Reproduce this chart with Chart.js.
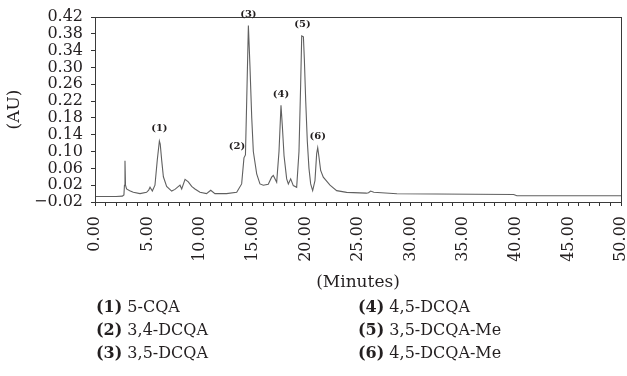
<!DOCTYPE html>
<html>
<head>
<meta charset="utf-8">
<script src="https://cdn.jsdelivr.net/npm/chart.js@4.4.1/dist/chart.umd.min.js"></script>
<style>
    body { margin: 0; background: #fff; }
    .wrap { position: relative; width: 627px; height: 376px; }
    .legend { position: absolute; font-family: "DejaVu Serif", serif; font-size: 16px; color: #231f20; line-height: 23px; }
    .legend b { font-weight: bold; }
</style>
</head>
<body>
<div class="wrap">
    <canvas id="myChart" width="627" height="376"></canvas>
    <div class="legend" id="legendLeft" style="left: 96px; top: 295px;"></div>
    <div class="legend" id="legendRight" style="left: 358px; top: 295px;"></div>
</div>
<script>
// Chromatogram trace (minutes, AU)
const retentionTimes = [0, 2.0, 2.6, 2.75, 2.8, 2.85, 2.9, 3.0, 3.3, 3.64, 4.28, 4.9, 5.1, 5.23, 5.45, 5.7, 5.92, 6.12, 6.2, 6.34,
    6.5, 6.81, 7.29, 7.6, 8.08, 8.24, 8.56, 8.87, 9.19, 9.5, 9.98, 10.6, 11.0, 11.4, 12.5, 13.47, 13.94, 14.16, 14.3, 14.42,
    14.58, 14.73, 14.9, 15.05, 15.37, 15.68, 16.0, 16.47, 16.79, 16.95, 17.27, 17.49, 17.68, 17.81, 17.97, 18.22, 18.38, 18.6, 18.85, 19.17,
    19.39, 19.55, 19.65, 19.81, 19.9, 20.03, 20.18, 20.34, 20.5, 20.69, 20.91, 21.07, 21.17, 21.29, 21.45, 21.7, 22.34, 22.97, 23.92, 25.8,
    26.0, 26.2, 26.5, 28.7, 39.8, 40.1, 50];
const absorbance = [-0.007, -0.007, -0.006, -0.003, 0.02, 0.078, 0.02, 0.011, 0.007, 0.003, 0.0, 0.003, 0.008, 0.015, 0.006, 0.02, 0.08, 0.125, 0.118, 0.079,
    0.04, 0.017, 0.006, 0.01, 0.02, 0.011, 0.034, 0.028, 0.017, 0.011, 0.003, 0.0, 0.008, 0.0, 0.0, 0.003, 0.023, 0.085, 0.092, 0.22,
    0.40, 0.303, 0.18, 0.1, 0.047, 0.023, 0.02, 0.022, 0.039, 0.043, 0.027, 0.1, 0.21, 0.16, 0.09, 0.035, 0.023, 0.035, 0.019, 0.015,
    0.1, 0.26, 0.375, 0.373, 0.32, 0.22, 0.125, 0.06, 0.023, 0.007, 0.031, 0.095, 0.109, 0.087, 0.055, 0.039, 0.02, 0.007, 0.003, 0.001,
    0.002, 0.006, 0.003, -0.0005, -0.002, -0.005, -0.005];

// Peak markers
const peakLabels = ['(1)', '(2)', '(3)', '(4)', '(5)', '(6)'];
const peakTimes = [6.12, 13.5, 14.58, 17.68, 19.72, 21.17];
const peakHeights = [0.13, 0.087, 0.40, 0.21, 0.376, 0.109];

// Compound key
const compoundNames = ['5-CQA', '3,4-DCQA', '3,5-DCQA', '4,5-DCQA', '3,5-DCQA-Me', '4,5-DCQA-Me'];

// Tick labels
const yTicks = [-0.02, 0.02, 0.06, 0.10, 0.14, 0.18, 0.22, 0.26, 0.30, 0.34, 0.38, 0.42];
const xMajorTicks = [0, 5, 10, 15, 20, 25, 30, 35, 40, 45, 50];
const xMinorStep = 1;

const serif = '"DejaVu Serif", serif';
const ink = '#231f20';

// Fill in the compound key below the chart
compoundNames.forEach((name, i) => {
    const row = document.createElement('div');
    row.innerHTML = `<b>(${i + 1})</b> ${name}`;
    document.getElementById(i < 3 ? 'legendLeft' : 'legendRight').appendChild(row);
});

// Frame around the plot and the peak numbers
const framePlugin = {
    id: 'frame',
    afterDatasetsDraw(chart) {
        const { ctx, chartArea, scales } = chart;
        ctx.save();
        ctx.strokeStyle = '#3a3a3a';
        ctx.lineWidth = 1;
        ctx.strokeRect(chartArea.left + 0.5, chartArea.top + 0.5, chartArea.right - chartArea.left, chartArea.bottom - chartArea.top);

        ctx.fillStyle = ink;
        ctx.font = 'bold 10px ' + serif;
        ctx.textAlign = 'center';
        ctx.textBaseline = 'middle';
        peakLabels.forEach((label, i) => {
            const x = scales.x.getPixelForValue(peakTimes[i]);
            const y = scales.y.getPixelForValue(peakHeights[i]);
            ctx.fillText(label, x, y - 11);
        });
        ctx.restore();
    }
};

const ctx = document.getElementById('myChart').getContext('2d');
const myChart = new Chart(ctx, {
    type: 'scatter',
    data: {
        datasets: [{
            data: retentionTimes.map((t, i) => ({ x: t, y: absorbance[i] })),
            showLine: true,
            borderColor: '#606060',
            borderWidth: 1.1,
            pointRadius: 0,
            tension: 0
        }]
    },
    options: {
        responsive: false,
        animation: false,
        devicePixelRatio: 1,
        layout: { padding: { top: 17, right: 6, left: 0, bottom: 0 } },
        plugins: {
            legend: { display: false },
            tooltip: { enabled: false }
        },
        scales: {
            x: {
                type: 'linear',
                min: 0,
                max: 50,
                afterBuildTicks: scale => {
                    const ticks = [];
                    for (let v = scale.min; v <= scale.max; v += xMinorStep) ticks.push({ value: v });
                    scale.ticks = ticks;
                },
                ticks: {
                    autoSkip: false,
                    minRotation: 90,
                    maxRotation: 90,
                    padding: 10,
                    color: ink,
                    font: { family: serif, size: 16 },
                    callback: v => xMajorTicks.includes(v) ? v.toFixed(2) : ''
                },
                grid: { drawOnChartArea: false, tickLength: 4, color: '#333' },
                border: { color: '#333' },
                title: {
                    display: true,
                    text: '(Minutes)',
                    color: ink,
                    font: { family: serif, size: 17 },
                    padding: { top: 0, bottom: 83 }
                },
                afterFit: scale => {
                    scale.height = 174;
                    scale.paddingLeft = 0;
                    scale.paddingRight = 0;
                }
            },
            y: {
                min: -0.02,
                max: 0.42,
                afterBuildTicks: scale => {
                    scale.ticks = yTicks.map(v => ({ value: v }));
                },
                ticks: {
                    autoSkip: false,
                    padding: 8,
                    color: ink,
                    font: { family: serif, size: 16, lineHeight: 1 },
                    callback: v => (v < 0 ? '\u2212' : '') + Math.abs(v).toFixed(2)
                },
                grid: { drawOnChartArea: false, tickLength: 4, color: '#333' },
                border: { color: '#333' },
                title: {
                    display: true,
                    text: '(AU)',
                    color: ink,
                    font: { family: serif, size: 17 },
                    padding: { top: 4, bottom: 0 }
                },
                afterFit: scale => {
                    scale.width = 95;
                    scale.paddingTop = 0;
                    scale.paddingBottom = 0;
                }
            }
        }
    },
    plugins: [framePlugin]
});
</script>
</body>
</html>
